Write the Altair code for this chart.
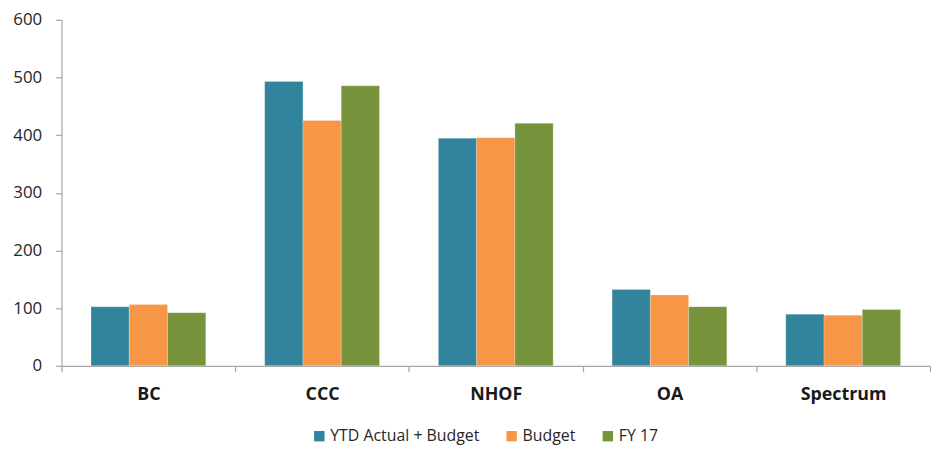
import altair as alt
import pandas as pd

categories = ["BC", "CCC", "NHOF", "OA", "Spectrum"]
series = ["YTD Actual + Budget", "Budget", "FY 17"]
ytd = [102.5, 493, 394.5, 132.5, 89.5]
budget = [106.5, 425.5, 395.5, 123, 87.5]
fy17 = [92, 485.5, 420.5, 102.5, 97.5]
colors = ["#31849B", "#F79646", "#77933C"]

rows = []
for i, c in enumerate(categories):
    for s, vals in zip(series, [ytd, budget, fy17]):
        rows.append({"cat": c, "series": s, "value": vals[i]})
df = pd.DataFrame(rows)

W, H = 876, 349
FONT = "Open Sans"

chart = alt.Chart(df).mark_bar(stroke="#ffffff", strokeWidth=0.4, strokeOpacity=0.6).encode(
    x=alt.X("cat:N", sort=categories, title=None,
            scale=alt.Scale(paddingInner=0, paddingOuter=0),
            axis=alt.Axis(labelAngle=0, labelFont=FONT, labelFontSize=18,
                          labelFontWeight="bold", labelColor="#1a1a1a",
                          labelPadding=14, tickBand="extent", tickSize=6,
                          domainColor="#a6a6a6", tickColor="#a6a6a6",
                          domainWidth=1.2, tickWidth=1.2)),
    xOffset=alt.XOffset("series:N", sort=series,
                        scale=alt.Scale(paddingOuter=0.77, paddingInner=0)),
    y=alt.Y("value:Q", title=None,
            scale=alt.Scale(domain=[0, 600], nice=False),
            axis=alt.Axis(values=[0, 100, 200, 300, 400, 500, 600], grid=False,
                          labelFont=FONT, labelFontSize=17, labelColor="#262626",
                          labelPadding=14, tickSize=6, domainColor="#a6a6a6",
                          tickColor="#a6a6a6", domainWidth=1.2, tickWidth=1.2)),
    color=alt.Color("series:N", sort=series,
                    scale=alt.Scale(domain=series, range=colors),
                    legend=alt.Legend(title=None, orient="none", direction="horizontal",
                                      legendX=252, legendY=412,
                                      symbolType="square", symbolSize=110,
                                      symbolStrokeWidth=0,
                                      labelFont=FONT, labelFontSize=16,
                                      labelColor="#262626", columnPadding=24,
                                      labelOffset=3, padding=0)),
).properties(
    width=W, height=H,
    autosize=alt.AutoSizeParams(type="none"),
    padding={"left": 54, "top": 10, "right": 1, "bottom": 82},
).configure_view(stroke=None)

chart.save("out.html", embed_options={"renderer": "svg", "actions": False})
